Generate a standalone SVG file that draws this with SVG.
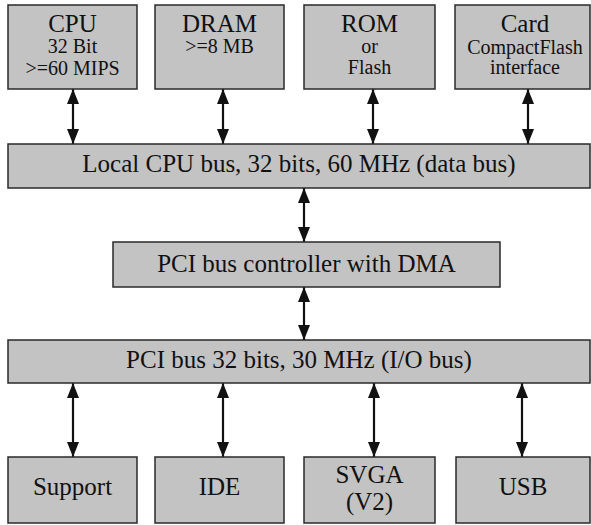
<svg xmlns="http://www.w3.org/2000/svg" width="591" height="525" viewBox="0 0 591 525">
<style>
.box{fill:#c3c3c3;stroke:#2a2a2a;stroke-width:1.5}
.t{fill:#111;text-anchor:middle}
.big{font-size:25px}
.sm{font-size:20px}
.ln{stroke:#111;stroke-width:2.2;fill:none;marker-start:url(#ah);marker-end:url(#ah)}
</style>
<defs>
<marker id="ah" viewBox="0 0 15 12" refX="15" refY="6" markerWidth="15" markerHeight="12" markerUnits="userSpaceOnUse" orient="auto-start-reverse">
<path d="M0,0 L15,6 L0,12 Z" fill="#111"/>
</marker>
</defs>
<rect width="591" height="525" fill="#fff"/>
<g id="connectors">
<line class="ln" x1="73" y1="89" x2="73" y2="144"/>
<line class="ln" x1="223" y1="89" x2="223" y2="144"/>
<line class="ln" x1="373" y1="89" x2="373" y2="144"/>
<line class="ln" x1="528" y1="89" x2="528" y2="144"/>
<line class="ln" x1="304" y1="188" x2="304" y2="242"/>
<line class="ln" x1="304" y1="287" x2="304" y2="340"/>
<line class="ln" x1="73" y1="383" x2="73" y2="457"/>
<line class="ln" x1="223" y1="383" x2="223" y2="457"/>
<line class="ln" x1="374" y1="383" x2="374" y2="457"/>
<line class="ln" x1="522" y1="383" x2="522" y2="457"/>
</g>
<g font-family="'Liberation Serif', 'DejaVu Serif', serif">
<g id="cpu">
<rect class="box" x="8" y="5" width="129" height="84"/>
<text class="t big" x="72.5" y="32">CPU</text>
<text class="t sm" x="72.5" y="53">32 Bit</text>
<text class="t sm" x="72.5" y="75">&gt;=60 MIPS</text>
</g>
<g id="dram">
<rect class="box" x="155" y="5" width="129" height="84"/>
<text class="t big" x="219.5" y="32">DRAM</text>
<text class="t sm" x="219.5" y="53">&gt;=8 MB</text>
</g>
<g id="rom">
<rect class="box" x="304" y="5" width="131" height="84"/>
<text class="t big" x="369.5" y="32">ROM</text>
<text class="t sm" x="369.5" y="53">or</text>
<text class="t sm" x="369.5" y="74">Flash</text>
</g>
<g id="card">
<rect class="box" x="455" y="5" width="135" height="84"/>
<text class="t big" x="525" y="32">Card</text>
<text class="t sm" x="525" y="54">CompactFlash</text>
<text class="t sm" x="525" y="74">interface</text>
</g>
<g id="localbus">
<rect class="box" x="8" y="144" width="582" height="44"/>
<text class="t big" x="299" y="172">Local CPU bus, 32 bits, 60 MHz (data bus)</text>
</g>
<g id="pcictrl">
<rect class="box" x="113" y="242" width="387" height="45"/>
<text class="t big" x="306.5" y="272">PCI bus controller with DMA</text>
</g>
<g id="pcibus">
<rect class="box" x="8" y="340" width="582" height="43"/>
<text class="t big" x="299" y="368">PCI bus 32 bits, 30 MHz (I/O bus)</text>
</g>
<g id="support">
<rect class="box" x="8" y="457" width="129" height="66"/>
<text class="t big" x="72.5" y="495">Support</text>
</g>
<g id="ide">
<rect class="box" x="155" y="457" width="129" height="66"/>
<text class="t big" x="219.5" y="495">IDE</text>
</g>
<g id="svga">
<rect class="box" x="304" y="457" width="131" height="66"/>
<text class="t big" x="369.5" y="483">SVGA</text>
<text class="t big" x="369.5" y="510">(V2)</text>
</g>
<g id="usb">
<rect class="box" x="456" y="457" width="134" height="66"/>
<text class="t big" x="523" y="495">USB</text>
</g>
</g>
</svg>
